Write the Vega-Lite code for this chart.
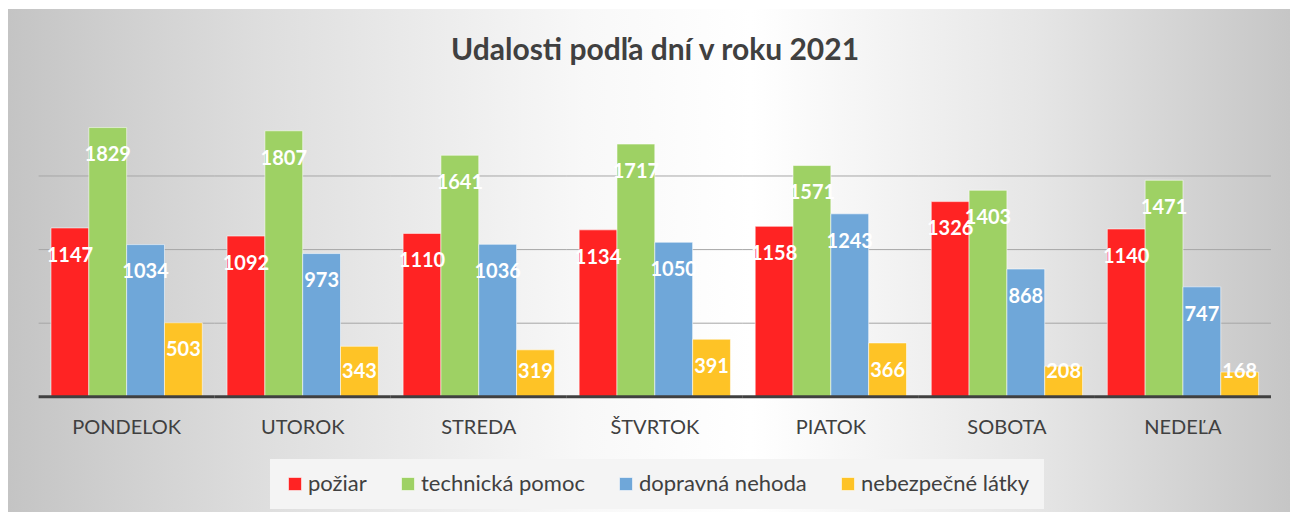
{
  "$schema": "https://vega.github.io/schema/vega-lite/v6.json",
  "autosize": "none",
  "width": 1282,
  "height": 503,
  "padding": {"left": 8, "top": 9, "right": 0, "bottom": 0},
  "background": "white",
  "title": {
    "text": "Udalosti podľa dní v roku 2021",
    "font": "Lato",
    "fontSize": 30,
    "fontWeight": "bold",
    "color": "#404040",
    "offset": -57,
    "dx": 6
  },
  "config": {
    "font": "Lato",
    "view": {"stroke": null},
    "legend": {
      "orient": "none",
      "legendX": 262,
      "legendY": 450,
      "direction": "horizontal",
      "labelFont": "Lato",
      "labelFontSize": 22,
      "labelColor": "#404040",
      "labelLimit": 400,
      "symbolType": "square",
      "symbolSize": 169,
      "symbolStrokeWidth": 1,
      "columnPadding": 30,
      "labelOffset": 2,
      "fillColor": "#f4f4f4",
      "padding": 14,
      "zindex": 2
    }
  },
  "datasets": {
    "days": [
      {"day": "PONDELOK"}, {"day": "UTOROK"}, {"day": "STREDA"}, {"day": "ŠTVRTOK"},
      {"day": "PIATOK"}, {"day": "SOBOTA"}, {"day": "NEDEĽA"}
    ],
    "events": [
      {"day": "PONDELOK", "series": "požiar", "value": 1147},
      {"day": "PONDELOK", "series": "technická pomoc", "value": 1829},
      {"day": "PONDELOK", "series": "dopravná nehoda", "value": 1034},
      {"day": "PONDELOK", "series": "nebezpečné látky", "value": 503},
      {"day": "UTOROK", "series": "požiar", "value": 1092},
      {"day": "UTOROK", "series": "technická pomoc", "value": 1807},
      {"day": "UTOROK", "series": "dopravná nehoda", "value": 973},
      {"day": "UTOROK", "series": "nebezpečné látky", "value": 343},
      {"day": "STREDA", "series": "požiar", "value": 1110},
      {"day": "STREDA", "series": "technická pomoc", "value": 1641},
      {"day": "STREDA", "series": "dopravná nehoda", "value": 1036},
      {"day": "STREDA", "series": "nebezpečné látky", "value": 319},
      {"day": "ŠTVRTOK", "series": "požiar", "value": 1134},
      {"day": "ŠTVRTOK", "series": "technická pomoc", "value": 1717},
      {"day": "ŠTVRTOK", "series": "dopravná nehoda", "value": 1050},
      {"day": "ŠTVRTOK", "series": "nebezpečné látky", "value": 391},
      {"day": "PIATOK", "series": "požiar", "value": 1158},
      {"day": "PIATOK", "series": "technická pomoc", "value": 1571},
      {"day": "PIATOK", "series": "dopravná nehoda", "value": 1243},
      {"day": "PIATOK", "series": "nebezpečné látky", "value": 366},
      {"day": "SOBOTA", "series": "požiar", "value": 1326},
      {"day": "SOBOTA", "series": "technická pomoc", "value": 1403},
      {"day": "SOBOTA", "series": "dopravná nehoda", "value": 868},
      {"day": "SOBOTA", "series": "nebezpečné látky", "value": 208},
      {"day": "NEDEĽA", "series": "požiar", "value": 1140},
      {"day": "NEDEĽA", "series": "technická pomoc", "value": 1471},
      {"day": "NEDEĽA", "series": "dopravná nehoda", "value": 747},
      {"day": "NEDEĽA", "series": "nebezpečné látky", "value": 168}
    ]
  },
  "data": {"name": "events"},
  "layer": [
    {
      "mark": {
        "type": "rect",
        "color": {
          "gradient": "linear",
          "x1": 0, "y1": 0.5, "x2": 1, "y2": 0.5,
          "stops": [
            {"offset": 0, "color": "#c4c4c4"},
            {"offset": 0.2, "color": "#dedede"},
            {"offset": 0.45, "color": "#f8f8f8"},
            {"offset": 0.58, "color": "#ffffff"},
            {"offset": 0.8, "color": "#e6e6e6"},
            {"offset": 1, "color": "#c6c6c6"}
          ]
        }
      },
      "encoding": {}
    },
    {
      "data": {"name": "days"},
      "mark": {"type": "rule", "color": "#a6a6a6", "strokeWidth": 1},
      "encoding": {
        "x": {"field": "day", "type": "nominal", "axis": null, "bandPosition": -0.0818},
        "x2": {"field": "day", "bandPosition": 1.0818},
        "y": {"datum": 500, "type": "quantitative", "axis": null}
      }
    },
    {
      "data": {"name": "days"},
      "mark": {"type": "rule", "color": "#a6a6a6", "strokeWidth": 1},
      "encoding": {
        "x": {"field": "day", "type": "nominal", "axis": null, "bandPosition": -0.0818},
        "x2": {"field": "day", "bandPosition": 1.0818},
        "y": {"datum": 1000, "type": "quantitative", "axis": null}
      }
    },
    {
      "data": {"name": "days"},
      "mark": {"type": "rule", "color": "#a6a6a6", "strokeWidth": 1},
      "encoding": {
        "x": {"field": "day", "type": "nominal", "axis": null, "bandPosition": -0.0818},
        "x2": {"field": "day", "bandPosition": 1.0818},
        "y": {"datum": 1500, "type": "quantitative", "axis": null}
      }
    },
    {
      "mark": {"type": "bar", "stroke": "rgba(255,255,255,0.55)", "strokeWidth": 1},
      "encoding": {
        "x": {
          "field": "day", "type": "nominal", "axis": null,
          "scale": {
            "domain": ["PONDELOK", "UTOROK", "STREDA", "ŠTVRTOK", "PIATOK", "SOBOTA", "NEDEĽA"],
            "paddingInner": 0.1406, "paddingOuter": 0.2113, "align": 0.578
          }
        },
        "xOffset": {
          "field": "series", "type": "nominal",
          "scale": {"domain": ["požiar", "technická pomoc", "dopravná nehoda", "nebezpečné látky"]}
        },
        "y": {
          "field": "value", "type": "quantitative", "axis": null,
          "scale": {"domain": [-782.6, 2634.5], "nice": false, "zero": false}
        },
        "color": {
          "field": "series", "type": "nominal", "title": null,
          "scale": {
            "domain": ["požiar", "technická pomoc", "dopravná nehoda", "nebezpečné látky"],
            "range": ["#FF2323", "#9ED164", "#6FA7D9", "#FEC326"]
          }
        }
      }
    },
    {
      "data": {"name": "days"},
      "mark": {"type": "rule", "color": "#404040", "strokeWidth": 3},
      "encoding": {
        "x": {"field": "day", "type": "nominal", "axis": null, "bandPosition": -0.0818},
        "x2": {"field": "day", "bandPosition": 1.0818},
        "y": {"datum": 0, "type": "quantitative", "axis": null}
      }
    },
    {
      "data": {"name": "days"},
      "mark": {"type": "text", "color": "#404040", "fontSize": 20, "font": "Lato", "baseline": "middle", "dy": 31},
      "encoding": {
        "x": {"field": "day", "type": "nominal", "axis": null},
        "y": {"datum": 0, "type": "quantitative", "axis": null},
        "text": {"field": "day", "type": "nominal"}
      }
    },
    {
      "transform": [{"filter": "datum.value >= 357"}],
      "mark": {"type": "text", "color": "white", "fontWeight": "bold", "fontSize": 20, "font": "Lato", "baseline": "middle", "dy": 27.7},
      "encoding": {
        "x": {"field": "day", "type": "nominal", "axis": null},
        "xOffset": {"field": "series", "type": "nominal"},
        "y": {"field": "value", "type": "quantitative", "axis": null},
        "text": {"field": "value", "type": "quantitative"}
      }
    },
    {
      "transform": [{"filter": "datum.value < 357"}],
      "mark": {"type": "text", "color": "white", "fontWeight": "bold", "fontSize": 20, "font": "Lato", "baseline": "middle", "dy": -25},
      "encoding": {
        "x": {"field": "day", "type": "nominal", "axis": null},
        "xOffset": {"field": "series", "type": "nominal"},
        "y": {"datum": 0, "type": "quantitative", "axis": null},
        "text": {"field": "value", "type": "quantitative"}
      }
    }
  ]
}
